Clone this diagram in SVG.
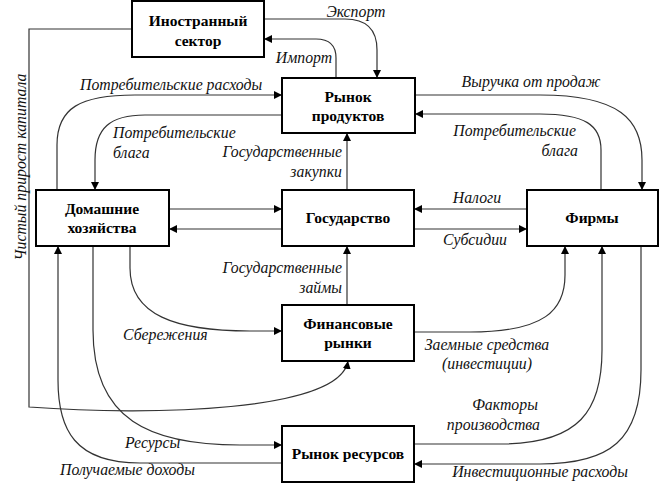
<svg xmlns="http://www.w3.org/2000/svg" width="660" height="483" viewBox="0 0 660 483">
<style>
.box{fill:#fff;stroke:#000;stroke-width:2}
.bt{font-family:"Liberation Serif","Times New Roman",serif;font-weight:bold;font-size:15.5px;text-anchor:middle;fill:#000}
.lb{font-family:"Liberation Serif","Times New Roman",serif;font-style:italic;font-size:15.8px;fill:#111}
.c{fill:none;stroke:#333;stroke-width:1.2}
</style>
<defs>
<marker id="ar" viewBox="0 0 10 10" refX="10" refY="5" markerWidth="8" markerHeight="8" markerUnits="userSpaceOnUse" orient="auto">
<path d="M0,0 L10,5 L0,10 z" fill="#000"/>
</marker>
</defs>
<rect width="660" height="483" fill="#fff"/>
<g id="connectors">
<path class="c" marker-end="url(#ar)" d="M264,19 H345 Q377,19 377,50 V78"/>
<path class="c" marker-end="url(#ar)" d="M336,78 V58 Q336,39 316,39 H264"/>
<path class="c" marker-end="url(#ar)" d="M57,190 V145 C57,108 80,95 135,95 H282"/>
<path class="c" marker-end="url(#ar)" d="M282,115 H145 C110,115 95,128 95,160 V190"/>
<path class="c" marker-end="url(#ar)" d="M347,190 V133"/>
<path class="c" marker-end="url(#ar)" d="M415,95 H540 C620,95 642,120 642,160 V190"/>
<path class="c" marker-end="url(#ar)" d="M601,190 V150 C601,125 585,114 540,114 H415"/>
<path class="c" marker-end="url(#ar)" d="M169,209 H282"/>
<path class="c" marker-end="url(#ar)" d="M282,229 H169"/>
<path class="c" marker-end="url(#ar)" d="M527,209 H414"/>
<path class="c" marker-end="url(#ar)" d="M414,229 H527"/>
<path class="c" marker-end="url(#ar)" d="M347,305 V246"/>
<path class="c" marker-end="url(#ar)" d="M130,246 V268 C130,315 175,331 250,331 H282"/>
<path class="c" marker-end="url(#ar)" d="M414,332 H470 C545,332 565,310 565,275 V246"/>
<path class="c" marker-end="url(#ar)" d="M132,29 H29 V407 C150,416 340,412 348,361"/>
<path class="c" marker-end="url(#ar)" d="M93,246 V330 C93,420 150,445 240,445 H282"/>
<path class="c" marker-end="url(#ar)" d="M282,463 H140 C75,463 58,430 58,380 V246"/>
<path class="c" marker-end="url(#ar)" d="M414,444 H500 C580,444 602,410 602,350 V246"/>
<path class="c" marker-end="url(#ar)" d="M641,246 V370 C641,440 610,464 540,464 H414"/>
</g>
<g id="foreign">
<rect class="box" x="132" y="1" width="132" height="56"/>
<text class="bt" x="198" y="26">Иностранный</text>
<text class="bt" x="198" y="46">сектор</text>
</g>
<g id="product-market">
<rect class="box" x="282" y="78" width="133" height="55"/>
<text class="bt" x="348" y="102">Рынок</text>
<text class="bt" x="348" y="121">продуктов</text>
</g>
<g id="households">
<rect class="box" x="36" y="190" width="133" height="56"/>
<text class="bt" x="102" y="214">Домашние</text>
<text class="bt" x="102" y="233">хозяйства</text>
</g>
<g id="government">
<rect class="box" x="282" y="190" width="132" height="56"/>
<text class="bt" x="348" y="223">Государство</text>
</g>
<g id="firms">
<rect class="box" x="527" y="190" width="131" height="56"/>
<text class="bt" x="592" y="223">Фирмы</text>
</g>
<g id="financial">
<rect class="box" x="282" y="305" width="132" height="56"/>
<text class="bt" x="348" y="329">Финансовые</text>
<text class="bt" x="348" y="348">рынки</text>
</g>
<g id="resource-market">
<rect class="box" x="282" y="426" width="132" height="56"/>
<text class="bt" x="348" y="459">Рынок ресурсов</text>
</g>
<g id="labels">
<text class="lb" x="356" y="17" text-anchor="middle">Экспорт</text>
<text class="lb" x="304" y="63" text-anchor="middle">Импорт</text>
<text class="lb" x="80" y="90">Потребительские расходы</text>
<text class="lb" x="113" y="138">Потребительские</text>
<text class="lb" x="113" y="158">блага</text>
<text class="lb" x="342" y="157" text-anchor="end">Государственные</text>
<text class="lb" x="342" y="177" text-anchor="end">закупки</text>
<text class="lb" x="531" y="87" text-anchor="middle">Выручка от продаж</text>
<text class="lb" x="576" y="136" text-anchor="end">Потребительские</text>
<text class="lb" x="578" y="156" text-anchor="end">блага</text>
<text class="lb" x="477" y="203" text-anchor="middle">Налоги</text>
<text class="lb" x="475" y="245" text-anchor="middle">Субсидии</text>
<text class="lb" x="342" y="273" text-anchor="end">Государственные</text>
<text class="lb" x="342" y="293" text-anchor="end">займы</text>
<text class="lb" x="123" y="340">Сбережения</text>
<text class="lb" x="487" y="350" text-anchor="middle">Заемные средства</text>
<text class="lb" x="487" y="369" text-anchor="middle">(инвестиции)</text>
<text class="lb" x="505" y="410" text-anchor="middle">Факторы</text>
<text class="lb" x="540" y="430" text-anchor="end">производства</text>
<text class="lb" x="125" y="448">Ресурсы</text>
<text class="lb" x="60" y="475">Получаемые доходы</text>
<text class="lb" x="628" y="477" text-anchor="end">Инвестиционные расходы</text>
<text class="lb" transform="translate(26,167) rotate(-90)" text-anchor="middle">Чистый прирост капитала</text>
</g>
</svg>
